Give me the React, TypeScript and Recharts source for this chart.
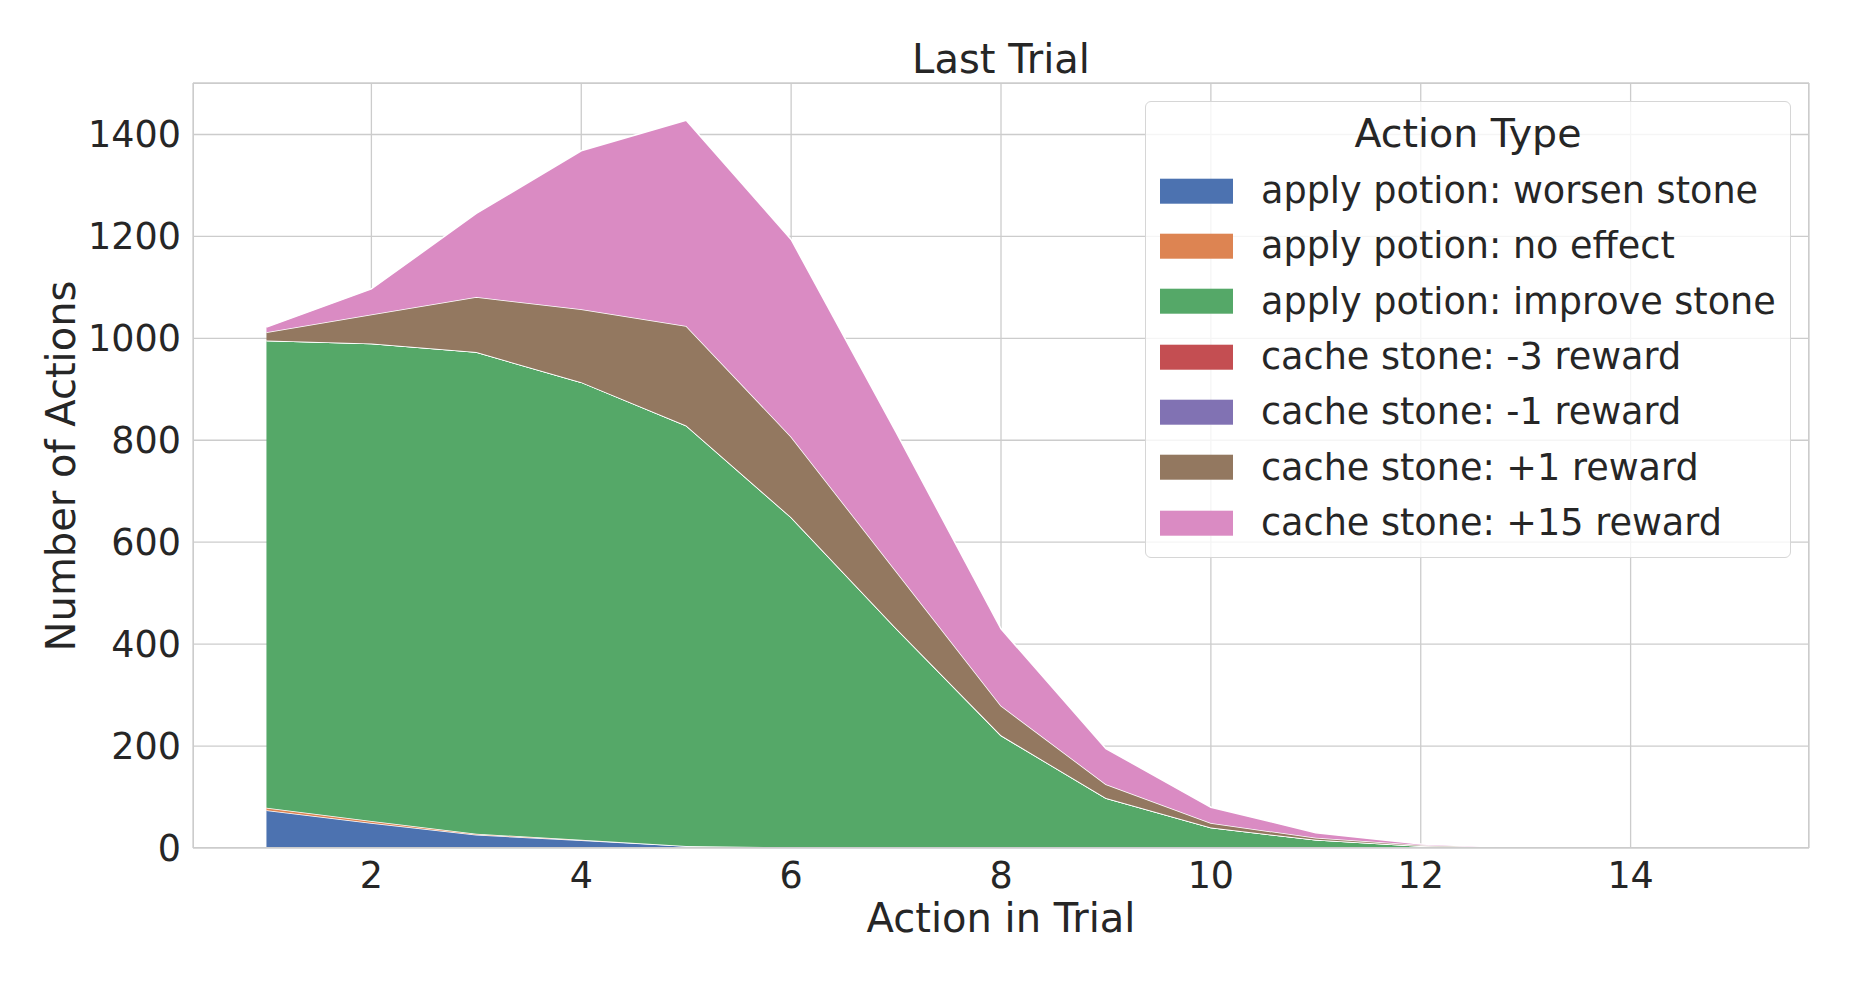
import React from 'react';
import { Area, AreaChart, CartesianGrid, XAxis, YAxis } from 'recharts';

// action index within the trial
const steps = [1, 2, 3, 4, 5, 6, 7, 8, 9, 10, 11, 12, 13, 14, 15];

// counts per action type
const worsenStone = [74, 49, 26, 15, 4, 1, 0, 0, 0, 0, 0, 0, 0, 0, 0];
const noEffect = [5, 4, 2, 1, 0, 0, 0, 0, 0, 0, 0, 0, 0, 0, 0];
const improveStone = [917, 937, 945, 898, 825, 648, 431, 221, 98, 40, 16, 4, 0, 0, 0];
const cacheMinus3 = [0, 0, 0, 0, 0, 0, 0, 0, 0, 0, 0, 0, 0, 0, 0];
const cacheMinus1 = [0, 0, 0, 0, 0, 0, 0, 0, 0, 0, 0, 0, 0, 0, 0];
const cachePlus1 = [16, 57, 108, 143, 195, 158, 112, 58, 27, 9, 4, 2, 0, 0, 0];
const cachePlus15 = [10, 50, 164, 311, 404, 387, 273, 151, 70, 31, 10, 2, 0, 0, 0];

const xTicks = [2, 4, 6, 8, 10, 12, 14];
const yTicks = [0, 200, 400, 600, 800, 1000, 1200, 1400];

const series = [
  { key: 'worsen', name: 'apply potion: worsen stone', values: worsenStone, color: '#4C72B0' },
  { key: 'noEffect', name: 'apply potion: no effect', values: noEffect, color: '#DD8452' },
  { key: 'improve', name: 'apply potion: improve stone', values: improveStone, color: '#55A868' },
  { key: 'm3', name: 'cache stone: -3 reward', values: cacheMinus3, color: '#C44E52' },
  { key: 'm1', name: 'cache stone: -1 reward', values: cacheMinus1, color: '#8172B3' },
  { key: 'p1', name: 'cache stone: +1 reward', values: cachePlus1, color: '#937860' },
  { key: 'p15', name: 'cache stone: +15 reward', values: cachePlus15, color: '#DA8BC3' },
];

const data = steps.map((step, i) => {
  const row: Record<string, number> = { step };
  series.forEach((s) => {
    row[s.key] = s.values[i];
  });
  return row;
});

const W = 1853;
const H = 985;
const PLOT = { left: 193, top: 83, right: 1809, bottom: 848 };
const Y_AXIS_W = 120;
const X_AXIS_H = 60;

const textColor = '#262626';
const font = '"DejaVu Sans", sans-serif';
const tickStyle = { fill: textColor, fontSize: 36.5, fontFamily: font };

export default function App() {
  const cx = (PLOT.left + PLOT.right) / 2;
  const cy = (PLOT.top + PLOT.bottom) / 2;

  return (
    <div
      style={{
        position: 'absolute',
        left: 0,
        top: 0,
        width: W,
        height: H,
        background: '#fff',
        fontFamily: font,
        color: textColor,
      }}
    >
      <AreaChart
        width={W}
        height={H}
        data={data}
        margin={{
          top: PLOT.top,
          right: W - PLOT.right,
          left: PLOT.left - Y_AXIS_W,
          bottom: H - PLOT.bottom - X_AXIS_H,
        }}
      >
        <CartesianGrid stroke="#cccccc" strokeWidth={1.3} />
        <XAxis
          type="number"
          dataKey="step"
          domain={[0.3, 15.7]}
          ticks={xTicks}
          allowDataOverflow
          height={X_AXIS_H}
          axisLine={false}
          tickLine={false}
          tickSize={0}
          tickMargin={14}
          tick={tickStyle}
        />
        <YAxis
          type="number"
          domain={[0, 1501]}
          ticks={yTicks}
          allowDataOverflow
          width={Y_AXIS_W}
          axisLine={false}
          tickLine={false}
          tickSize={0}
          tickMargin={12}
          tick={tickStyle}
        />
        {series.map((s) => (
          <Area
            key={s.key}
            type="linear"
            dataKey={s.key}
            name={s.name}
            stackId="1"
            fill={s.color}
            fillOpacity={1}
            stroke="#ffffff"
            strokeWidth={1.5}
            dot={false}
            activeDot={false}
            isAnimationActive={false}
          />
        ))}
      </AreaChart>

      {/* axes frame */}
      <div
        style={{
          position: 'absolute',
          left: PLOT.left,
          top: PLOT.top,
          width: PLOT.right - PLOT.left,
          height: PLOT.bottom - PLOT.top,
          border: '1.3px solid #cccccc',
          boxSizing: 'border-box',
          pointerEvents: 'none',
        }}
      />

      <div
        style={{
          position: 'absolute',
          left: cx,
          top: 59,
          transform: 'translate(-50%, -50%)',
          fontSize: 40,
          lineHeight: 1,
          whiteSpace: 'nowrap',
        }}
      >
        Last Trial
      </div>
      <div
        style={{
          position: 'absolute',
          left: cx,
          top: 918,
          transform: 'translate(-50%, -50%)',
          fontSize: 40,
          lineHeight: 1,
          whiteSpace: 'nowrap',
        }}
      >
        Action in Trial
      </div>
      <div
        style={{
          position: 'absolute',
          left: 61,
          top: cy,
          transform: 'translate(-50%, -50%) rotate(-90deg)',
          fontSize: 40,
          lineHeight: 1,
          whiteSpace: 'nowrap',
        }}
      >
        Number of Actions
      </div>

      {/* legend */}
      <div
        style={{
          position: 'absolute',
          left: 1145,
          top: 101,
          width: 646,
          height: 457,
          boxSizing: 'border-box',
          border: '1.3px solid #d6d6d6',
          borderRadius: 6,
          background: 'rgba(255,255,255,0.8)',
        }}
      >
        <div
          style={{
            position: 'absolute',
            left: 0,
            right: 0,
            top: 32,
            transform: 'translateY(-50%)',
            textAlign: 'center',
            fontSize: 39.5,
            lineHeight: 1,
          }}
        >
          Action Type
        </div>
        {series.map((s, i) => (
          <div
            key={s.key}
            style={{
              position: 'absolute',
              left: 14,
              top: 89 + i * 55.3,
              transform: 'translateY(-50%)',
              display: 'flex',
              alignItems: 'center',
              whiteSpace: 'nowrap',
            }}
          >
            <span
              style={{ display: 'inline-block', width: 73, height: 25, background: s.color }}
            />
            <span style={{ marginLeft: 28, fontSize: 36.6, lineHeight: 1 }}>{s.name}</span>
          </div>
        ))}
      </div>
    </div>
  );
}
